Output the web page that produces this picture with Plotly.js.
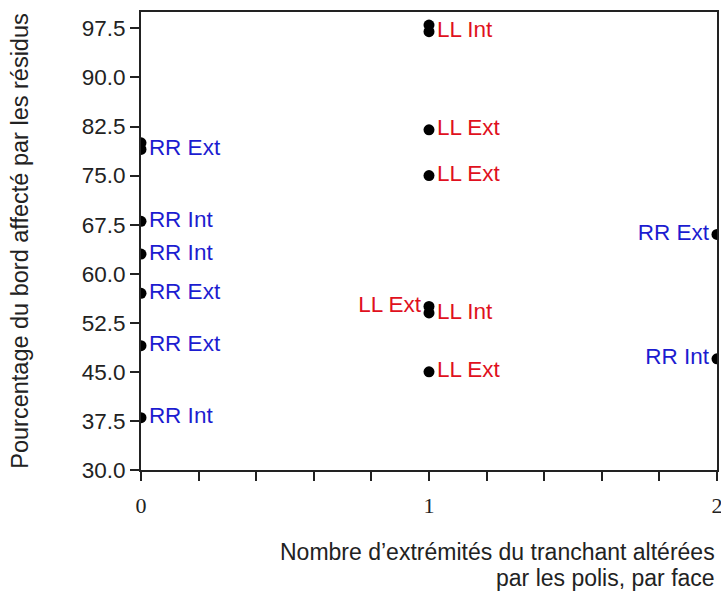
<!DOCTYPE html>
<html>
<head>
<meta charset="utf-8">
<script src="https://cdn.plot.ly/plotly-3.0.1.min.js"></script>
<style>html,body{margin:0;padding:0;background:#fff;}#chart{width:721px;height:591px;}</style>
</head>
<body>
<div id="chart"></div>
<script>
// Data
const rrX = [0, 0, 0, 0, 0, 0, 0, 2, 2];
const rrY = [80, 79, 68, 63, 57, 49, 38, 66, 47];
const rrLabels = ["", "RR Ext", "RR Int", "RR Int", "RR Ext", "RR Ext", "RR Int", "RR Ext", "RR Int"];
const rrPos = ["middle right", "middle right", "middle right", "middle right", "middle right", "middle right", "middle right", "middle left", "middle left"];

const llX = [1, 1, 1, 1, 1, 1, 1];
const llY = [98, 97, 82, 75, 55, 54, 45];
const llLabels = ["", "LL Int", "LL Ext", "LL Ext", "LL Ext", "LL Int", "LL Ext"];
const llPos = ["middle right", "middle right", "middle right", "middle right", "middle left", "middle right", "middle right"];

const xTickVals = [0, 0.2, 0.4, 0.6, 0.8, 1, 1.2, 1.4, 1.6, 1.8, 2];
const xTickText = ["0", "", "", "", "", "1", "", "", "", "", "2"];
const yTickVals = [30, 37.5, 45, 52.5, 60, 67.5, 75, 82.5, 90, 97.5];
const xTitleLines = ["Nombre d’extrémités du tranchant altérées", "par les polis, par face"];

const blue = "#1c1cd0";
const red = "#e01020";
const sans = "Liberation Sans, Arial, sans-serif";

const traces = [
  {
    x: rrX, y: rrY, text: rrLabels, mode: "markers+text", type: "scatter",
    textposition: rrPos,
    marker: {color: "#000", size: 11},
    textfont: {color: blue, size: 22.5, family: sans},
    cliponaxis: true, hoverinfo: "skip"
  },
  {
    x: llX, y: llY, text: llLabels, mode: "markers+text", type: "scatter",
    textposition: llPos,
    marker: {color: "#000", size: 11},
    textfont: {color: red, size: 22.5, family: sans},
    cliponaxis: true, hoverinfo: "skip"
  }
];

const layout = {
  width: 721, height: 591,
  margin: {l: 141, r: 4, t: 12, b: 121},
  paper_bgcolor: "#fff", plot_bgcolor: "#fff",
  showlegend: false,
  font: {family: sans, color: "#222"},
  xaxis: {
    range: [0, 2], showgrid: false, zeroline: false,
    showline: true, linecolor: "#222", linewidth: 2, mirror: true,
    ticks: "outside", ticklen: 9, tickwidth: 2, tickcolor: "#222",
    tickmode: "array", tickvals: xTickVals, ticktext: xTickText,
    tickfont: {family: "Liberation Serif, Times New Roman, serif", size: 22, color: "#222"},
    ticklabelstandoff: 6, ticklabeloverflow: "allow"
  },
  yaxis: {
    range: [30, 100], showgrid: false, zeroline: false,
    showline: true, linecolor: "#222", linewidth: 2, mirror: true,
    ticks: "outside", ticklen: 9, tickwidth: 2, tickcolor: "#222",
    tickmode: "array", tickvals: yTickVals,
    ticktext: yTickVals.map(v => v.toFixed(1)),
    tickfont: {size: 22.5, color: "#222"},
    title: {text: "Pourcentage du bord affecté par les résidus", font: {size: 23.5, color: "#222"}, standoff: 46}
  },
  annotations: xTitleLines.map((t, i) => ({
    xref: "paper", yref: "paper", x: 1, y: 0, yshift: -82 - 26 * i,
    xanchor: "right", yanchor: "middle", align: "right", showarrow: false,
    text: t, font: {size: 23, color: "#222"}
  }))
};

Plotly.newPlot("chart", traces, layout, {displayModeBar: false, staticPlot: true});
</script>
</body>
</html>
